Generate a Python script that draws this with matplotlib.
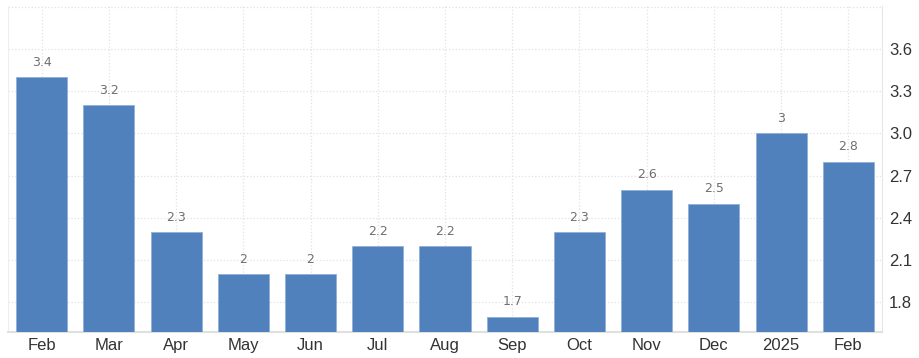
import matplotlib as mpl
mpl.use('Agg')
import matplotlib.pyplot as plt
import numpy as np

# data
months = ['Feb', 'Mar', 'Apr', 'May', 'Jun', 'Jul', 'Aug', 'Sep', 'Oct', 'Nov', 'Dec', '2025', 'Feb']
values = [3.4, 3.2, 2.3, 2.0, 2.0, 2.2, 2.2, 1.7, 2.3, 2.6, 2.5, 3.0, 2.8]
value_labels = ['3.4', '3.2', '2.3', '2', '2', '2.2', '2.2', '1.7', '2.3', '2.6', '2.5', '3', '2.8']
yticks = [1.8, 2.1, 2.4, 2.7, 3.0, 3.3, 3.6]

BAR = '#5081bd'
GRID = '#e2e2e2'
plt.rcParams['font.family'] = ['Liberation Sans', 'DejaVu Sans']

fig = plt.figure(figsize=(9.19, 3.58), dpi=100)
ax = fig.add_axes([0.0087, 0.0726, 0.951, 0.9104])

x = np.arange(len(months))
ax.bar(x, values, width=0.76, color=BAR, edgecolor='#8fb0d8', linewidth=0.6, zorder=3)

for xi, v, lab in zip(x, values, value_labels):
    ax.text(xi, v + 0.06, lab, ha='center', va='bottom', fontsize=9,
            color='#707070', family='DejaVu Sans', zorder=4)

ax.set_xlim(-0.5, len(months) - 0.5)
ax.set_ylim(1.59, 3.905)

ax.set_xticks(x)
ax.set_xticklabels(months, fontsize=12, color='#333333')
ax.set_yticks(yticks + [3.9])
ax.set_yticklabels([f'{t:.1f}' for t in yticks] + [''], fontsize=12, color='#333333')
ax.yaxis.tick_right()
ax.tick_params(axis='both', length=0)
ax.tick_params(axis='x', pad=4)
ax.tick_params(axis='y', pad=5)

ax.grid(True, color=GRID, linestyle=':', linewidth=0.9, zorder=0)
ax.spines['top'].set_visible(False)
ax.spines['left'].set_color('#eeeeee')
ax.spines['bottom'].set_color('#e0e0e0')
ax.spines['bottom'].set_linewidth(1.5)
ax.spines['right'].set_color('#e6e6e6')

plt.savefig('out.png', dpi=100)
plt.close(fig)
